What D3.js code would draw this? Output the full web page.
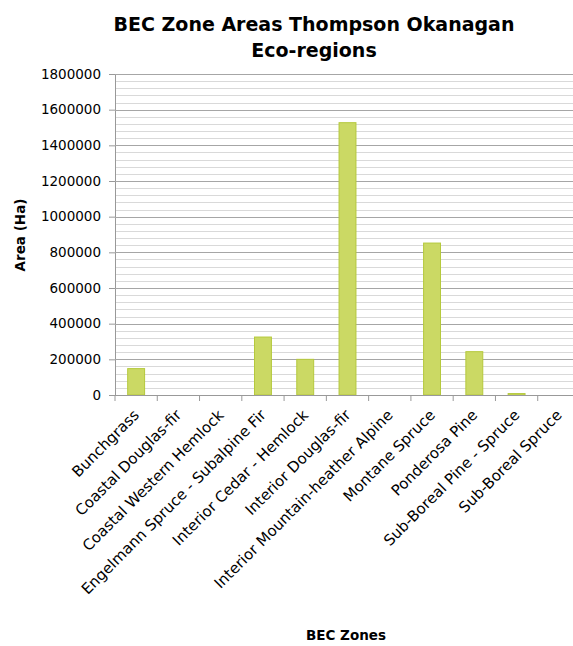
<!DOCTYPE html>
<html>
<head>
<meta charset="utf-8">
<script src="https://cdn.jsdelivr.net/npm/d3@7"></script>
<style>
  body { margin: 0; background: #fff; }
  text { font-family: "DejaVu Sans", sans-serif; fill: #000; }
</style>
</head>
<body>
<div id="chart"></div>
<script>
// data
var zones = ["Bunchgrass", "Coastal Douglas-fir", "Coastal Western Hemlock",
  "Engelmann Spruce - Subalpine Fir", "Interior Cedar - Hemlock", "Interior Douglas-fir",
  "Interior Mountain-heather Alpine", "Montane Spruce", "Ponderosa Pine",
  "Sub-Boreal Pine - Spruce", "Sub-Boreal Spruce"];
var areas = [148000, 0, 0, 325000, 200000, 1527000, 0, 852000, 243000, 8000, 0];
var y_ticks = [0, 200000, 400000, 600000, 800000, 1000000, 1200000, 1400000, 1600000, 1800000];

var chart_width = 573;
var chart_height = 646;
var left = 115, top_y = 74, bottom_y = 395, right = 580;

var svg = d3.select("#chart")
  .append("svg")
  .attr("width", chart_width)
  .attr("height", chart_height);

var x = d3.scaleBand()
  .domain(zones)
  .range([left, right])
  .paddingInner(0.6)
  .paddingOuter(0.3);

var y = d3.scaleLinear()
  .domain([0, 1800000])
  .range([bottom_y, top_y]);

// minor gridlines every 40000
var minor = d3.range(0, 1800001, 40000).filter(function(v){ return v % 200000 !== 0; });
svg.append("g").selectAll("line")
  .data(minor)
  .enter()
  .append("line")
  .attr("x1", left).attr("x2", chart_width)
  .attr("y1", function(d){ return Math.round(y(d)) + 0.5; })
  .attr("y2", function(d){ return Math.round(y(d)) + 0.5; })
  .attr("stroke", "#d9d9d9")
  .attr("stroke-width", 1);

// y axis with major gridlines
var yAxis = svg.append("g")
  .attr("transform", "translate(" + left + ",0)")
  .call(d3.axisLeft(y).tickValues(y_ticks).tickSize(6).tickPadding(8).tickFormat(d3.format("d")));
yAxis.select(".domain").attr("stroke", "#999");
yAxis.selectAll(".tick line").attr("stroke", "#999");
yAxis.selectAll("text").style("font-size", "13.5px").attr("fill", "#000");
svg.append("g").selectAll("line")
  .data(y_ticks.slice(1))
  .enter()
  .append("line")
  .attr("x1", left).attr("x2", chart_width)
  .attr("y1", function(d){ return Math.round(y(d)) + 0.5; })
  .attr("y2", function(d){ return Math.round(y(d)) + 0.5; })
  .attr("stroke", "#a6a6a6")
  .attr("stroke-width", 1);

// bars
svg.append("g").selectAll("rect")
  .data(areas)
  .enter()
  .append("rect")
  .attr("x", function(d, i){ return x(zones[i]); })
  .attr("width", x.bandwidth())
  .attr("y", function(d){ return y(d); })
  .attr("height", function(d){ return bottom_y - y(d); })
  .attr("fill", "#cbd964")
  .attr("stroke", "#b5c93c")
  .attr("stroke-width", 1);

// x axis
var step = x.step();
svg.append("line")
  .attr("x1", left).attr("x2", chart_width)
  .attr("y1", bottom_y + 0.5).attr("y2", bottom_y + 0.5)
  .attr("stroke", "#999");
svg.append("g").selectAll("line")
  .data(d3.range(zones.length + 1))
  .enter()
  .append("line")
  .attr("x1", function(i){ return left + i * step; })
  .attr("x2", function(i){ return left + i * step; })
  .attr("y1", bottom_y).attr("y2", bottom_y + 6)
  .attr("stroke", "#999");

svg.append("g").selectAll("text")
  .data(zones)
  .enter()
  .append("text")
  .attr("transform", function(d){
    return "translate(" + (x(d) + x.bandwidth() / 2 + 4) + "," + (bottom_y + 21) + ") rotate(-45)";
  })
  .attr("text-anchor", "end")
  .style("font-size", "15px")
  .text(function(d){ return d; });

// titles
var title = svg.append("text")
  .attr("x", 314)
  .attr("text-anchor", "middle")
  .style("font-size", "19px")
  .style("font-weight", "bold");
title.append("tspan").attr("x", 314).attr("y", 31).text("BEC Zone Areas Thompson Okanagan");
title.append("tspan").attr("x", 314).attr("y", 57).text("Eco-regions");

svg.append("text")
  .attr("transform", "translate(25,235) rotate(-90)")
  .attr("text-anchor", "middle")
  .style("font-size", "13.5px")
  .style("font-weight", "bold")
  .text("Area (Ha)");

svg.append("text")
  .attr("x", 346)
  .attr("y", 640)
  .attr("text-anchor", "middle")
  .style("font-size", "13.5px")
  .style("font-weight", "bold")
  .text("BEC Zones");
</script>
</body>
</html>
